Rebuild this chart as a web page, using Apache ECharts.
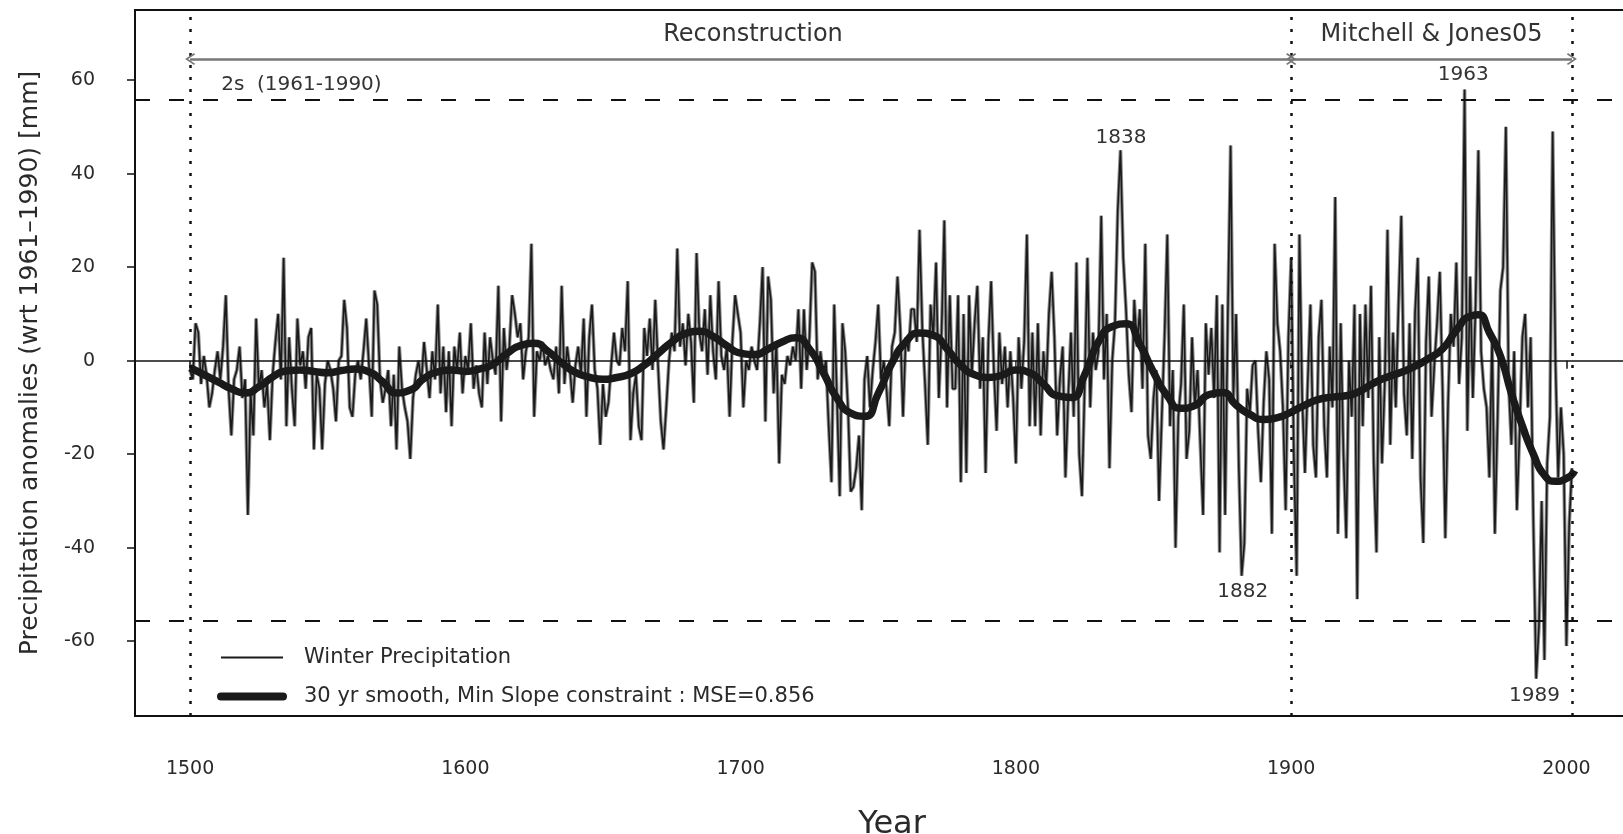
<!DOCTYPE html>
<html>
<head>
<meta charset="utf-8">
<script src="https://cdn.jsdelivr.net/npm/echarts@6/dist/echarts.min.js"></script>
<style>
html, body { margin: 0; padding: 0; background: #fff; }
#chart { width: 1623px; height: 834px; }
</style>
</head>
<body>
<div id="chart"></div>
<script>
// winter precipitation anomalies, one value per year from 1500
var startYear = 1500;
var precip1500s = [
  -2, -4, 8, 6, -5, 1, -3, -10, -7, -2,
  2, -4, 3, 14, -6, -16, -4, -2, 3, -8,
  -4, -33, -7, -16, 9, -6, -2, -10, -5, -17,
  -3, 4, 10, -4, 22, -14, 5, -6, -14, 9,
  -1, 2, -6, 5, 7, -19, -3, -6, -19, -5,
  0, -2, -6, -13, 0, 1, 13, 7, -10, -12,
  -3, 0, -4, 2, 9, -1, -12, 15, 12, -4,
  -9, -6, -2, -14, -3, -19, 3, -6, -10, -13,
  -21, -8, -3, 0, -5, 4, -2, -8, 2, -4,
  12, -7, 3, -11, 2, -14, 3, -2, 6, -7
];
var precip1600s = [
  1, -2, 8, -6, -1, -7, -10, 6, -5, 5,
  0, -3, 16, -13, 7, -2, 3, 14, 10, 5,
  8, -4, 2, 5, 25, -12, 2, 0, 4, -1,
  1, -2, -4, 3, -7, 16, -5, 3, -2, -9,
  -1, 3, -3, 9, -12, 5, 12, -2, -6, -18,
  -5, -12, -9, -1, 6, 0, -1, 7, 2, 17,
  -17, -7, -3, -14, -17, 7, 1, 9, -2, 13,
  -1, -13, -19, -10, 0, 6, 2, 24, 3, 8,
  -1, 10, 4, -9, 23, 6, 2, 11, -3, 14,
  2, -4, 17, 1, -2, 3, -12, 4, 14, 10
];
var precip1700s = [
  6, -10, 0, -2, 3, 0, -2, 8, 20, -13,
  18, 13, -7, 4, -22, -3, -5, 1, -1, 3,
  0, 11, -6, 11, -2, 5, 21, 19, -4, 2,
  -3, 0, -14, -26, 12, -8, -29, 8, 2, -10,
  -28, -27, -23, -16, -32, -4, 1, -10, -2, 4,
  12, -4, 0, -6, -14, 3, 6, 18, 7, -12,
  5, 2, 11, 11, 4, 28, 7, -5, -18, 12,
  5, 21, -8, 6, 30, -10, 14, -6, -6, 14,
  -26, 10, -24, 14, -3, 8, 16, -6, 5, -24,
  4, 17, -2, -15, 6, -5, 3, -10, 2, -8
];
var precip1800s = [
  -22, 5, -6, 4, 27, -14, 6, -14, 8, -16,
  2, -6, 10, 19, 5, -16, -4, 3, -25, -8,
  6, -12, 21, -20, -29, -5, 22, -10, 6, -2,
  2, 31, -4, 10, -23, 0, 8, 32, 45, 22,
  11, -3, -11, 13, 3, 11, -6, 25, -16, -21,
  -8, -2, -30, -12, 5, 27, -14, -2, -40, -12,
  -5, 12, -21, -15, 5, -10, -2, -18, -33, 8,
  -3, 7, -8, 14, -41, 12, -33, 10, 46, -8,
  10, -23, -46, -39, -6, -11, -1, 0, -15, -26,
  -9, 2, -4, -37, 25, 8, 2, -10, -32, 5
];
var precip1900s = [
  22, -21, -46, 27, -8, -24, -5, 12, -18, -25,
  5, 13, -14, -25, 3, -10, 35, -37, 8, -20,
  -38, 0, -12, 12, -51, 10, -14, 12, -8, 16,
  -22, -41, 5, -22, -5, 28, -18, 6, -10, 12,
  31, -7, -16, 8, -21, 10, 22, -25, -39, 4,
  18, -12, -1, 8, 19, -6, -38, -9, 10, 3,
  21, -5, 5, 58, -15, 18, -8, 12, 45, 2,
  -6, -10, -25, 5, -37, -12, 15, 20, 50, -5,
  -18, 2, -32, -15, 5, 10, -10, 5, -35, -68,
  -57, -30, -64, -22, -12, 49, 0, -25, -10, -20,
  -61, -35, -23
];

// 30 yr smooth
var smoothYears = [
  1500, 1505, 1510, 1515, 1520, 1525, 1530, 1535, 1540, 1545,
  1550, 1555, 1560, 1565, 1570, 1575, 1580, 1585, 1590, 1595,
  1600, 1605, 1610, 1615, 1620, 1625, 1630, 1635, 1640, 1645,
  1650, 1655, 1660, 1665, 1670, 1675, 1680, 1685, 1690, 1695,
  1700, 1705, 1710, 1715, 1720, 1725, 1730, 1735, 1740, 1745,
  1750, 1755, 1760, 1765, 1770, 1775, 1780, 1785, 1790, 1795,
  1800, 1805, 1810, 1815, 1820, 1825, 1830, 1835, 1840, 1845,
  1850, 1855, 1860, 1865, 1870, 1875, 1880, 1885, 1890, 1895,
  1900, 1905, 1910, 1915, 1920, 1925, 1930, 1935, 1940, 1945,
  1950, 1955, 1960, 1965, 1968, 1972, 1976, 1980, 1984, 1988,
  1992, 1996, 2000, 2003
];
var smoothValues = [
  -1.5, -3, -4.5, -6, -6.9, -5.6, -3.5, -2.2, -2, -2.3,
  -2.6, -2.1, -1.8, -2.4, -4.5, -6.9, -6.3, -3.8, -2.4, -2,
  -2.3, -1.8, -0.8, 1.5, 3.2, 3.7, 2, -0.5, -2.5, -3.5,
  -4, -3.6, -2.8, -1, 1.5, 4, 5.8, 6.3, 5.2, 3.2,
  1.6, 1.3, 2.5, 4, 4.9, 2.5, -2.5, -8, -11.2, -11.9,
  -7, -0.5, 4, 5.9, 5.4, 2.5, -1, -3, -3.6, -3.1,
  -2, -2.6, -5, -7.5, -7.9, -3, 4, 7.3, 7.9, 3.5,
  -2.5, -7.5, -10.2, -9.6, -7.3, -6.8, -9.5, -11.5, -12.6, -12.2,
  -11, -9.5, -8.3, -7.8, -7.5, -6.5, -4.8, -3.5, -2.5, -1.2,
  0.5, 2.5, 6.5, 9.5, 9.8, 6, 1, -7, -14, -20,
  -24.5, -25.8, -25.2, -23.5
];

var xTicks = [1500, 1600, 1700, 1800, 1900, 2000];
var yTicks = [-60, -40, -20, 0, 20, 40, 60];
var twoSigma = 55.7;
var periodBounds = [1500, 1900, 2002];
var periodArrowLevel = 64.5;

var noteTexts = ['Reconstruction', 'Mitchell & Jones05', '2s  (1961-1990)', '1838', '1963', '1882', '1989'];
var noteYears = [1704.5, 1951, 1511.3, 1838.2, 1962.5, 1882.4, 1988.4];
var noteValues = [69.8, 69.8, 58.9, 47.7, 61.2, -49.5, -71.7];

var precip = [].concat(precip1500s, precip1600s, precip1700s, precip1800s, precip1900s);
var precipData = precip.map(function (v, i) { return [startYear + i, v]; });
var smoothData = smoothYears.map(function (y, i) { return [y, smoothValues[i]]; });

var seriesName = 'Winter Precipitation';
var smoothName = '30 yr smooth, Min Slope constraint : MSE=0.856';
var chevron = 'path://M0,9 L5,0 L10,9 L8.8,10 L5,3 L1.2,10 Z';
var ink = '#1a1a1a';
var font = 'DejaVu Sans';

var chart = echarts.init(document.getElementById('chart'));

var noteData = noteTexts.map(function (t, i) {
    var big = i < 2;
    return {
        name: t,
        coord: [noteYears[i], noteValues[i]],
        label: {
            fontSize: big ? 24 : 20,
            align: i == 2 ? 'left' : 'center'
        }
    };
});

function plainNumber(v) {
    return String(v);
}

var option = {
    animation: false,
    backgroundColor: '#fff',
    color: [ink, '#999', ink],
    textStyle: { fontFamily: font },
    grid: {
        left: 135, right: -4, top: 10, bottom: 118,
        containLabel: false,
        outerBoundsMode: 'none',
        show: true, borderColor: '#111', borderWidth: 2
    },
    legend: {
        orient: 'vertical',
        left: 212, top: 642,
        itemWidth: 62, itemHeight: 14, itemGap: 18,
        selectedMode: false,
        textStyle: { fontSize: 21, color: '#2a2a2a', padding: [0, 0, 0, 16] },
        data: [
            { name: seriesName, itemStyle: { opacity: 0 }, lineStyle: { width: 1.8, color: ink } },
            { name: smoothName, itemStyle: { opacity: 0 }, lineStyle: { width: 8, color: ink, cap: 'round' } }
        ]
    },
    xAxis: {
        type: 'value',
        min: 1480, max: 2022,
        axisLine: { show: false },
        splitLine: { show: false },
        axisTick: { show: true, length: 8, customValues: xTicks, lineStyle: { color: '#111', width: 1.5 } },
        axisLabel: { customValues: xTicks, formatter: plainNumber, margin: 44, fontSize: 19, color: '#2a2a2a', fontFamily: font },
        name: 'Year',
        nameLocation: 'middle',
        nameGap: 93,
        nameTextStyle: { fontSize: 32, color: '#2a2a2a', fontFamily: font, padding: [0, 0, 0, 22] }
    },
    yAxis: {
        type: 'value',
        min: -76, max: 75,
        axisLine: { show: false },
        splitLine: { show: false },
        axisTick: { show: true, length: 8, customValues: yTicks, lineStyle: { color: '#111', width: 1.5 } },
        axisLabel: { customValues: yTicks, formatter: plainNumber, margin: 40, fontSize: 19, color: '#2a2a2a', fontFamily: font },
        name: 'Precipitation anomalies (wrt 1961\u20131990) [mm]',
        nameLocation: 'middle',
        nameGap: 92,
        nameTextStyle: { fontSize: 25, color: '#2a2a2a', fontFamily: font }
    },
    series: [
        {
            name: 'halo',
            type: 'line',
            data: precipData,
            symbol: 'none',
            silent: true,
            z: 1,
            lineStyle: { color: '#8c8c8c', width: 3.6 }
        },
        {
            name: seriesName,
            type: 'line',
            data: precipData,
            symbol: 'none',
            z: 2,
            lineStyle: { color: ink, width: 1.6 },
            markLine: {
                silent: true,
                symbol: 'none',
                label: { show: false },
                data: [
                    { yAxis: 0, lineStyle: { color: '#111', width: 1.5, type: 'solid' } },
                    { yAxis: twoSigma, lineStyle: { color: '#111', width: 2, type: [15, 19] } },
                    { yAxis: -twoSigma, lineStyle: { color: '#111', width: 2, type: [15, 19] } }
                ].concat(periodBounds.map(function (y) {
                    return { xAxis: y, lineStyle: { color: '#111', width: 2.5, type: [3, 9] } };
                })).concat([
                    [
                        { coord: [periodBounds[0], periodArrowLevel], symbol: chevron, symbolSize: [12, 10] },
                        { coord: [periodBounds[1], periodArrowLevel], symbol: chevron, symbolSize: [12, 10], lineStyle: { color: '#777', width: 2.5, type: 'solid' } }
                    ],
                    [
                        { coord: [periodBounds[1], periodArrowLevel], symbol: chevron, symbolSize: [12, 10] },
                        { coord: [periodBounds[2], periodArrowLevel], symbol: chevron, symbolSize: [12, 10], lineStyle: { color: '#777', width: 2.5, type: 'solid' } }
                    ]
                ])
            },
            markPoint: {
                silent: true,
                symbol: 'circle',
                symbolSize: 1,
                itemStyle: { color: 'rgba(0,0,0,0)' },
                label: { show: true, position: 'inside', formatter: '{b}', color: '#333', fontFamily: font },
                data: noteData
            }
        },
        {
            name: smoothName,
            type: 'line',
            data: smoothData,
            smooth: 0.6,
            symbol: 'none',
            z: 3,
            lineStyle: { color: ink, width: 7.5 }
        }
    ]
};

chart.setOption(option);
</script>
</body>
</html>
